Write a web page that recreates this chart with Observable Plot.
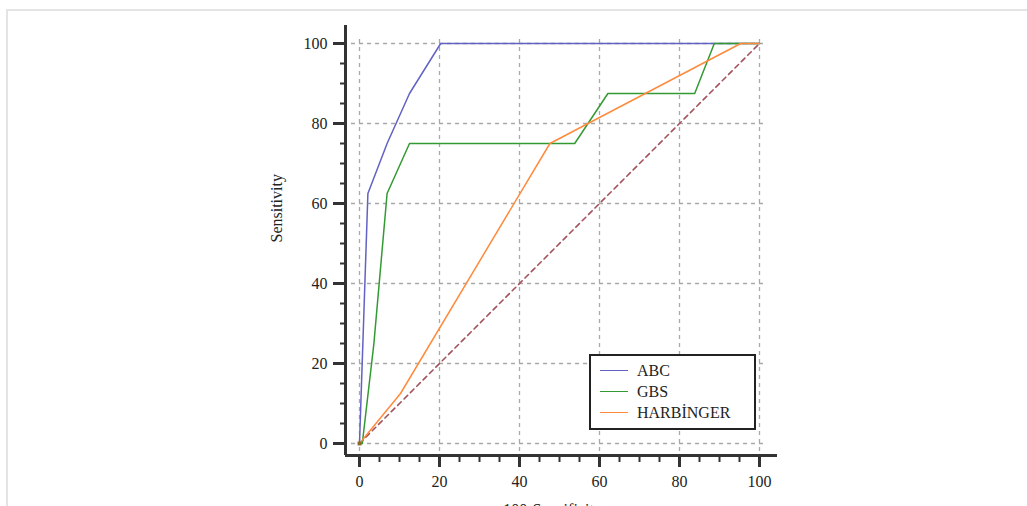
<!DOCTYPE html>
<html>
<head>
<meta charset="utf-8">
<script src="https://cdn.jsdelivr.net/npm/d3@7"></script>
<script src="https://cdn.jsdelivr.net/npm/@observablehq/plot@0.6"></script>
<style>
  html, body { margin: 0; padding: 0; background: #fff; overflow: hidden; }
  #wrap { position: relative; width: 1027px; height: 506px; overflow: hidden; }
  #frame { position: absolute; left: 6px; top: 9px; width: 1100px; height: 600px;
           border-top: 2px solid #e4e4e4; border-left: 2px solid #e4e4e4; pointer-events: none; }
  #chart { position: absolute; left: 0; top: 0; }
  #legend { position: absolute; left: 589px; top: 354px; width: 163px; height: 72px;
            border: 2px solid #222; background: #fff;
            font-family: "Liberation Serif", serif; font-size: 16px; color: #222; }
  .row { position: absolute; left: 0; height: 20px; line-height: 20px; white-space: nowrap; }
  .sw { position: absolute; left: 9px; top: 9px; width: 28px; height: 0; border-top: 1.5px solid; }
  .lb { position: absolute; left: 46px; top: 0; }
</style>
</head>
<body>
<div id="wrap">
  <div id="frame"></div>
  <div id="chart"></div>
  <div id="legend"></div>
</div>
<script>
// ---- data ----
const seriesNames = ["ABC", "GBS", "HARBİNGER"];
const seriesColors = ["#6262c4", "#339a33", "#ff8a3c"];

const abcX = [0, 2.1, 6.9, 12.5, 20.3, 100];
const abcY = [0, 62.5, 75, 87.5, 100, 100];

const gbsX = [0, 0.7, 3.6, 6.9, 12.5, 53.8, 62.1, 83.8, 88.7, 100];
const gbsY = [0, 0, 25, 62.5, 75, 75, 87.5, 87.5, 100, 100];

const harbX = [0, 10.25, 47.6, 95.3, 100];
const harbY = [0, 12.5, 75, 100, 100];

const refX = [0, 100];
const refY = [0, 100];

const xMajor = [0, 20, 40, 60, 80, 100];
const yMajor = [0, 20, 40, 60, 80, 100];
const xMinor = [5, 10, 15, 25, 30, 35, 45, 50, 55, 65, 70, 75, 85, 90, 95];
const yMinor = [5, 10, 15, 25, 30, 35, 45, 50, 55, 65, 70, 75, 85, 90, 95];

const xDomain = [-3.5, 104.5];
const yDomain = [-3, 104.5];
const gridExtent = [-2, 102];

const xLabel = "100-Specificity";
const yLabel = "Sensitivity";

// ---- build tables ----
const rows = [];
[[abcX, abcY], [gbsX, gbsY], [harbX, harbY]].forEach(([xs, ys], i) => {
  xs.forEach((x, j) => rows.push({ series: seriesNames[i], x, y: ys[j] }));
});
const refRows = refX.map((x, i) => ({ x, y: refY[i] }));

const font = "Liberation Serif";

const chart = Plot.plot({
  width: 1027,
  height: 506,
  marginLeft: 345,
  marginRight: 250,
  marginTop: 25,
  marginBottom: 51,
  style: { fontFamily: font, fontSize: "16px", background: "transparent", overflow: "visible" },
  x: { domain: xDomain },
  y: { domain: yDomain },
  color: { domain: seriesNames, range: seriesColors },
  marks: [
    // grid
    Plot.ruleX(xMajor, { y1: gridExtent[0], y2: gridExtent[1], stroke: "#a8a8a8", strokeWidth: 1.3, strokeDasharray: "4,4" }),
    Plot.ruleY(yMajor, { x1: gridExtent[0], x2: gridExtent[1], stroke: "#a8a8a8", strokeWidth: 1.3, strokeDasharray: "4,4" }),
    // diagonal reference
    Plot.line(refRows, { x: "x", y: "y", stroke: "#a4525c", strokeWidth: 1.6, strokeDasharray: "5,4" }),
    // ROC curves
    Plot.line(rows, { x: "x", y: "y", z: "series", stroke: "series", strokeWidth: 1.5 }),
    Plot.dot([refRows[0]], { x: "x", y: "y", symbol: "square", r: 2.2, fill: "#8a6a2a" }),
    // axis lines
    Plot.ruleX([xDomain[0]], { stroke: "#333", strokeWidth: 3 }),
    Plot.ruleY([yDomain[0]], { stroke: "#333", strokeWidth: 3 }),
    // axes
    Plot.axisX({ ticks: xMajor, anchor: "bottom", tickSize: 12, tickPadding: 8, strokeWidth: 3, stroke: "#333",
                 fontSize: 16, fontFamily: font, fill: "#222", label: null }),
    Plot.axisX({ ticks: xMinor, anchor: "bottom", tickSize: 7, strokeWidth: 2, stroke: "#333",
                 tickFormat: () => "", label: null }),
    Plot.axisY({ ticks: yMajor, anchor: "left", tickSize: 12, tickPadding: 6, strokeWidth: 3, stroke: "#333",
                 fontSize: 16, fontFamily: font, fill: "#222", label: null }),
    Plot.axisY({ ticks: yMinor, anchor: "left", tickSize: 5, strokeWidth: 2, stroke: "#333",
                 tickFormat: () => "", label: null }),
    // axis titles
    Plot.text([yLabel], { frameAnchor: "left", dx: -69, dy: 2, rotate: -90, fontSize: 16, fontFamily: font, fill: "#222" }),
    Plot.text([xLabel], { frameAnchor: "bottom", dx: -9, dy: 48, lineAnchor: "top", fontSize: 16, fontFamily: font, fill: "#222" })
  ]
});
document.getElementById("chart").appendChild(chart);

// ---- legend ----
const legend = document.getElementById("legend");
const rowTops = [5, 26, 47];
seriesNames.forEach((name, i) => {
  const r = document.createElement("div");
  r.className = "row";
  r.style.top = rowTops[i] + "px";
  const sw = document.createElement("div");
  sw.className = "sw";
  sw.style.borderTopColor = seriesColors[i];
  const lb = document.createElement("span");
  lb.className = "lb";
  lb.textContent = name;
  r.appendChild(sw);
  r.appendChild(lb);
  legend.appendChild(r);
});
</script>
</body>
</html>
